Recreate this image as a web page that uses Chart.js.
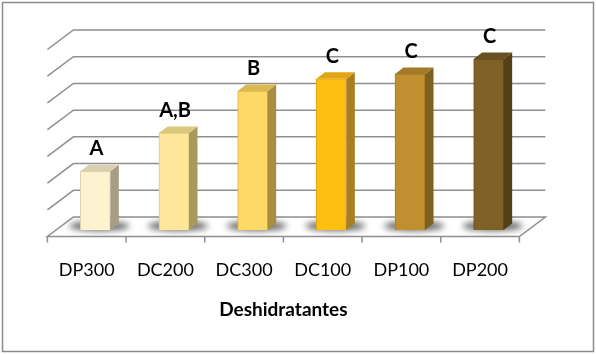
<!DOCTYPE html>
<html>
<head>
<meta charset="utf-8">
<script src="https://cdn.jsdelivr.net/npm/chart.js@4.4.1/dist/chart.umd.min.js"></script>
<style>
  html, body { margin: 0; padding: 0; background: #fff; }
  canvas { display: block; }
</style>
</head>
<body>
<canvas id="container" width="596" height="354"></canvas>
<script>
// data (no axis numbers in the original, units are gridline steps)
const labels = ['DP300', 'DC200', 'DC300', 'DC100', 'DP100', 'DP200'];
const values = [2.2, 3.63, 5.2, 5.66, 5.84, 6.4];
const letters = ['A', 'A,B', 'B', 'C', 'C', 'C'];
const axisTitle = 'Deshidratantes';
const yMax = 7;

const frontColors = ['#FFF2CF', '#FFE699', '#FFD966', '#FDBF12', '#C09030', '#7F6128'];
const sideColors  = ['#A59D84', '#A89A5C', '#A88E3E', '#A87E20', '#7E6020', '#544018'];
const topColors   = ['#D8CFAE', '#DCC77E', '#DCB850', '#DFA514', '#A27A2A', '#6A5020'];
const edgeColors  = ['#DDD3B2', '#E2CB7E', '#D9B650', '#E0A810', '#A67C28', '#684E1E'];

// 3d offsets relative to the plane the bars are drawn in
const fx = -8.6, fy = 6.5;   // front edge of floor
const bx = 17.4, by = -13;   // back wall
const dx = 8.5, dy = -6.5;   // bar depth

const font = 'Lato, "Open Sans", sans-serif';

const threeD = {
  id: 'threeD',
  beforeDraw(chart) {
    const ctx = chart.ctx;
    ctx.save();
    ctx.fillStyle = '#fff';
    ctx.fillRect(0, 0, chart.width, chart.height);
    ctx.strokeStyle = '#8a8a8a';
    ctx.lineWidth = 1.5;
    ctx.strokeRect(2.5, 2.5, 591, 349);
    ctx.restore();
  },
  beforeDatasetsDraw(chart) {
    const ctx = chart.ctx;
    const a = chart.chartArea;
    const ys = chart.scales.y;
    const y0 = ys.getPixelForValue(0);
    ctx.save();
    ctx.lineWidth = 1.5;
    ctx.strokeStyle = '#8f8f8f';
    // floor
    ctx.beginPath();
    ctx.moveTo(a.left + fx, y0 + fy);
    ctx.lineTo(a.right + fx, y0 + fy);
    ctx.lineTo(a.right + bx, y0 + by);
    ctx.lineTo(a.left + bx, y0 + by);
    ctx.closePath();
    ctx.fillStyle = '#fff';
    ctx.fill();
    ctx.stroke();
    // gridlines on back wall and left wall
    for (let v = 1; v <= yMax; v++) {
      const y = ys.getPixelForValue(v) + by;
      ctx.beginPath();
      ctx.moveTo(a.left + fx, y + (fy - by));
      ctx.lineTo(a.left + bx, y);
      ctx.lineTo(a.right + bx, y);
      ctx.stroke();
    }
    // shadows under bars
    const meta = chart.getDatasetMeta(0);
    meta.data.forEach(el => {
      ctx.save();
      ctx.filter = 'blur(3px)';
      ctx.fillStyle = 'rgba(0,0,0,0.6)';
      ctx.beginPath();
      ctx.ellipse(el.x + 4, el.base - 4, el.width / 2 + 15, 5, 0, 0, Math.PI * 2);
      ctx.fill();
      ctx.restore();
    });
    ctx.restore();
  },
  afterDatasetsDraw(chart) {
    const ctx = chart.ctx;
    const a = chart.chartArea;
    const xs = chart.scales.x;
    const ys = chart.scales.y;
    const y0 = ys.getPixelForValue(0);
    const meta = chart.getDatasetMeta(0);
    ctx.save();
    meta.data.forEach((el, i) => {
      const l = el.x - el.width / 2, r = el.x + el.width / 2;
      // side
      ctx.fillStyle = sideColors[i];
      ctx.beginPath();
      ctx.moveTo(r, el.y);
      ctx.lineTo(r + dx, el.y + dy);
      ctx.lineTo(r + dx, el.base + dy);
      ctx.lineTo(r, el.base);
      ctx.closePath();
      ctx.fill();
      // top
      ctx.fillStyle = topColors[i];
      ctx.beginPath();
      ctx.moveTo(l, el.y);
      ctx.lineTo(r, el.y);
      ctx.lineTo(r + dx, el.y + dy);
      ctx.lineTo(l + dx, el.y + dy);
      ctx.closePath();
      ctx.fill();
      // letters
      ctx.fillStyle = '#000';
      ctx.font = 'bold 20px ' + font;
      ctx.textAlign = 'center';
      ctx.textBaseline = 'alphabetic';
      ctx.fillText(letters[i], el.x + 1, el.y - 16);
    });
    // tick marks on the front edge
    ctx.strokeStyle = '#8f8f8f';
    ctx.lineWidth = 1.5;
    const cw = (a.right - a.left) / labels.length;
    for (let i = 0; i <= labels.length; i++) {
      const x = a.left + i * cw + fx;
      ctx.beginPath();
      ctx.moveTo(x, y0 + fy);
      ctx.lineTo(x, y0 + fy + 6);
      ctx.stroke();
    }
    // category labels
    ctx.fillStyle = '#000';
    ctx.font = '18px ' + font;
    ctx.textAlign = 'center';
    ctx.textBaseline = 'middle';
    labels.forEach((lab, i) => {
      ctx.fillText(lab, xs.getPixelForValue(i) + fx, 270);
    });
    // axis title
    ctx.font = 'bold 19px ' + font;
    ctx.fillText(axisTitle, (a.left + a.right) / 2 + fx, 310);
    ctx.restore();
  }
};

new Chart('container', {
  type: 'bar',
  data: {
    labels: labels,
    datasets: [{
      data: values,
      backgroundColor: frontColors,
      borderColor: edgeColors,
      borderWidth: 1,
      barThickness: 30
    }]
  },
  options: {
    responsive: false,
    animation: false,
    devicePixelRatio: 1,
    layout: { padding: { left: 56, right: 68, top: 43, bottom: 124 } },
    plugins: { legend: { display: false }, tooltip: { enabled: false } },
    scales: {
      x: { display: false },
      y: { display: false, min: 0, max: yMax }
    }
  },
  plugins: [threeD]
});
</script>
</body>
</html>
